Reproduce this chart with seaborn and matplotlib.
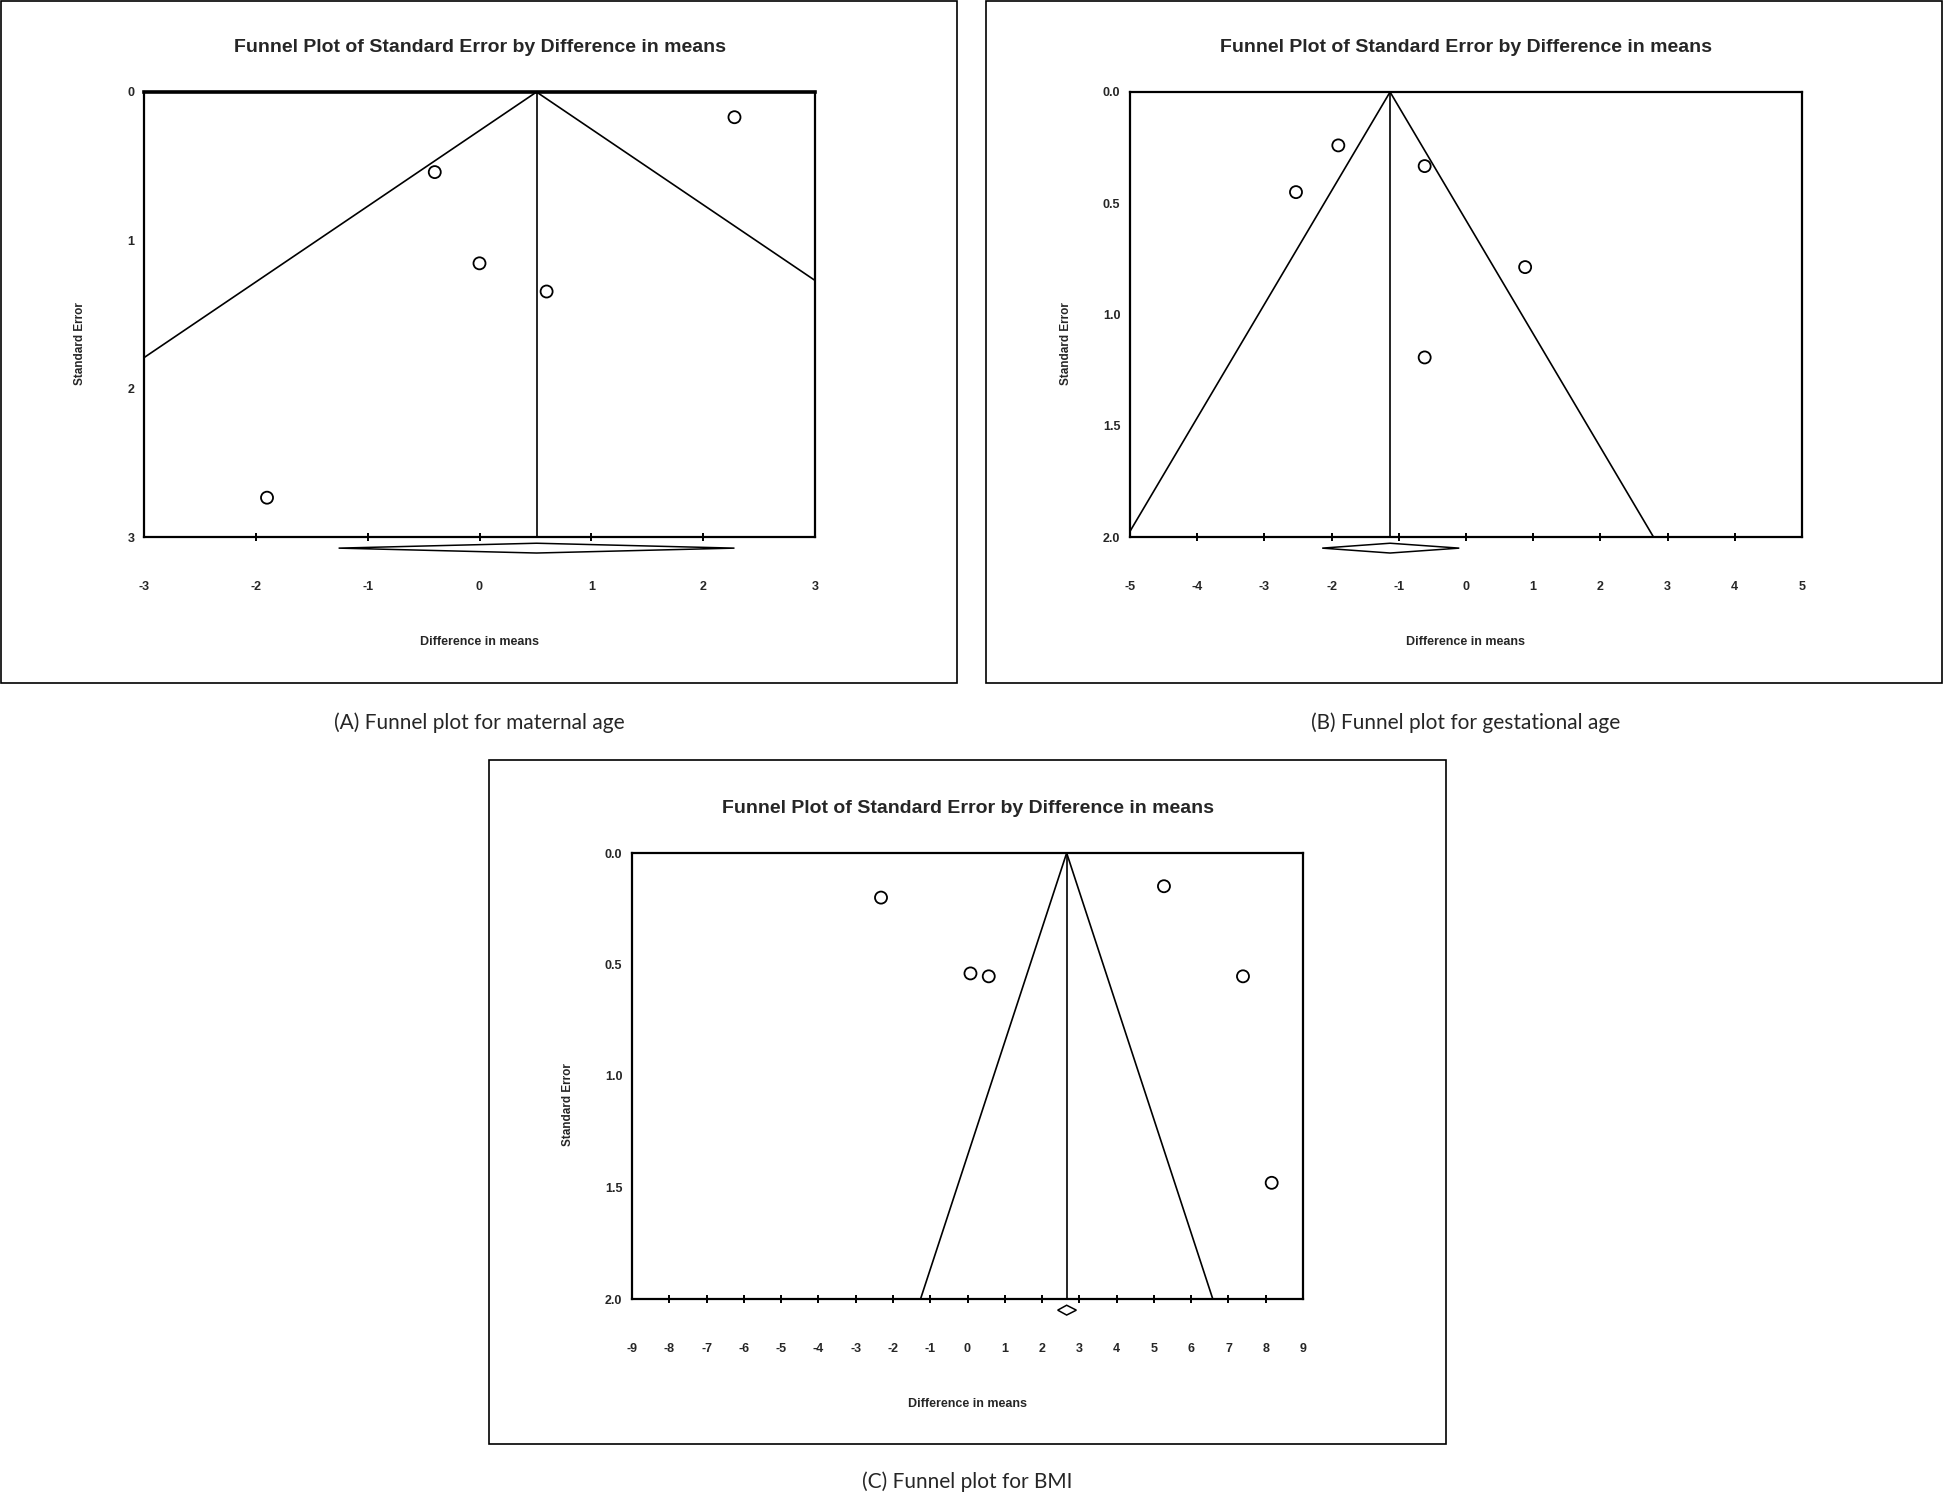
"""
Funnel plots (standard error by difference in means) for three outcomes
"""
import numpy as np
import matplotlib
matplotlib.use('Agg')
import matplotlib.pyplot as plt
import matplotlib.transforms as mtransforms
from matplotlib.patches import Polygon, Rectangle
import seaborn as sns

# (A) maternal age
a_diff = [2.28, -0.40, 0.00, 0.60, -1.90]
a_se = [0.17, 0.54, 1.155, 1.345, 2.735]
a_mean = 0.51
a_ci = (-1.26, 2.28)
a_xticks = [-3, -2, -1, 0, 1, 2, 3]
a_yticks = [0, 1, 2, 3]
a_ylabels = ['0', '1', '2', '3']

# (B) gestational age
b_diff = [-1.90, -2.53, -0.615, 0.88, -0.615]
b_se = [0.24, 0.45, 0.333, 0.787, 1.193]
b_mean = -1.13
b_ci = (-2.14, -0.10)
b_xticks = [-5, -4, -3, -2, -1, 0, 1, 2, 3, 4, 5]
b_yticks = [0.0, 0.5, 1.0, 1.5, 2.0]
b_ylabels = ['0.0', '0.5', '1.0', '1.5', '2.0']

# (C) BMI
c_diff = [-2.32, 0.08, 0.57, 5.27, 7.39, 8.16]
c_se = [0.20, 0.54, 0.553, 0.149, 0.553, 1.479]
c_mean = 2.66
c_ci = (2.42, 2.92)
c_xticks = list(range(-9, 10))
c_yticks = [0.0, 0.5, 1.0, 1.5, 2.0]
c_ylabels = ['0.0', '0.5', '1.0', '1.5', '2.0']

captions = ['(A) Funnel plot for maternal age',
            '(B) Funnel plot for gestational age',
            '(C) Funnel plot for BMI']

TITLE = 'Funnel Plot of Standard Error by Difference in means'

sns.set_style('white')
plt.rcParams['font.family'] = ['Liberation Sans', 'DejaVu Sans']

W, H = 1945, 1495
fig = plt.figure(figsize=(W / 100, H / 100), dpi=100)


def px_rect(left, top, right, bottom):
    return [left / W, 1 - bottom / H, (right - left) / W, (bottom - top) / H]


def funnel(rect, diff, se, mean, ci, xticks, yticks, ylabels, thick_top=False):
    ax = fig.add_axes(px_rect(*rect))
    ymax = yticks[-1]
    ax.set_xlim(xticks[0], xticks[-1])
    ax.set_ylim(ymax, 0)

    # funnel (95% limits) and pooled estimate
    se_line = np.array([0, ymax])
    ax.plot(mean - 1.96 * se_line, se_line, color='black', lw=1.2)
    ax.plot(mean + 1.96 * se_line, se_line, color='black', lw=1.2)
    ax.plot([mean, mean], [0, ymax], color='black', lw=1.2)

    sns.scatterplot(x=diff, y=se, ax=ax, marker='o', s=75,
                    facecolors='none', edgecolor='black', linewidth=1.3,
                    zorder=5, legend=False)

    # summary diamond below the axis
    trans = mtransforms.blended_transform_factory(ax.transData, ax.transAxes)
    yc, hh = -0.025, 0.011
    diamond = Polygon([(ci[0], yc), (mean, yc + hh), (ci[1], yc), (mean, yc - hh)],
                      closed=True, facecolor='white', edgecolor='black', lw=1.1,
                      transform=trans, clip_on=False)
    ax.add_patch(diamond)

    for s in ax.spines.values():
        s.set_visible(True)
        s.set_color('black')
        s.set_linewidth(1.6)
    if thick_top:
        ax.spines['top'].set_linewidth(2.6)

    ax.set_xticks(xticks)
    ax.set_xticklabels([str(t) for t in xticks], fontweight='bold', fontsize=9)
    ax.set_yticks(yticks)
    ax.set_yticklabels(ylabels, fontweight='bold', fontsize=9)
    ax.tick_params(axis='x', direction='inout', length=6, width=1.4, pad=29,
                   bottom=True, color='black')
    ax.tick_params(axis='y', length=0, pad=7)
    ticks = ax.xaxis.get_major_ticks()
    ticks[0].tick1line.set_visible(False)
    ticks[-1].tick1line.set_visible(False)

    ax.set_xlabel('Difference in means', fontweight='bold', fontsize=9)
    ax.xaxis.set_label_coords(0.5, -0.222)
    ax.set_ylabel('Standard Error', fontweight='bold', fontsize=8.5)
    ax.yaxis.set_label_coords(-0.087, 0.435)
    ax.text(0.5, 1.1, TITLE, transform=ax.transAxes, ha='center', va='center',
            fontweight='bold', fontsize=14)
    return ax


funnel((144, 92, 815, 537), a_diff, a_se, a_mean, a_ci, a_xticks, a_yticks,
       a_ylabels, thick_top=True)
funnel((1130, 92, 1802, 537), b_diff, b_se, b_mean, b_ci, b_xticks, b_yticks,
       b_ylabels)
funnel((632, 853, 1303, 1299), c_diff, c_se, c_mean, c_ci, c_xticks, c_yticks,
       c_ylabels)

# outer frames around each panel
for left, top, right, bottom in [(1, 1, 957, 683), (986, 1, 1942, 683),
                                 (489, 760, 1446, 1444)]:
    fig.add_artist(Rectangle((left / W, 1 - bottom / H), (right - left) / W,
                             (bottom - top) / H, transform=fig.transFigure,
                             fill=False, edgecolor='black', lw=1.2))

for text, (cx, cy) in zip(captions, [(479, 723), (1466, 723), (967, 1482)]):
    fig.text(cx / W, 1 - cy / H, text, ha='center', va='center', fontsize=15,
             family=['Lato', 'DejaVu Sans'])

fig.savefig('out.png', dpi=100, facecolor='white')
